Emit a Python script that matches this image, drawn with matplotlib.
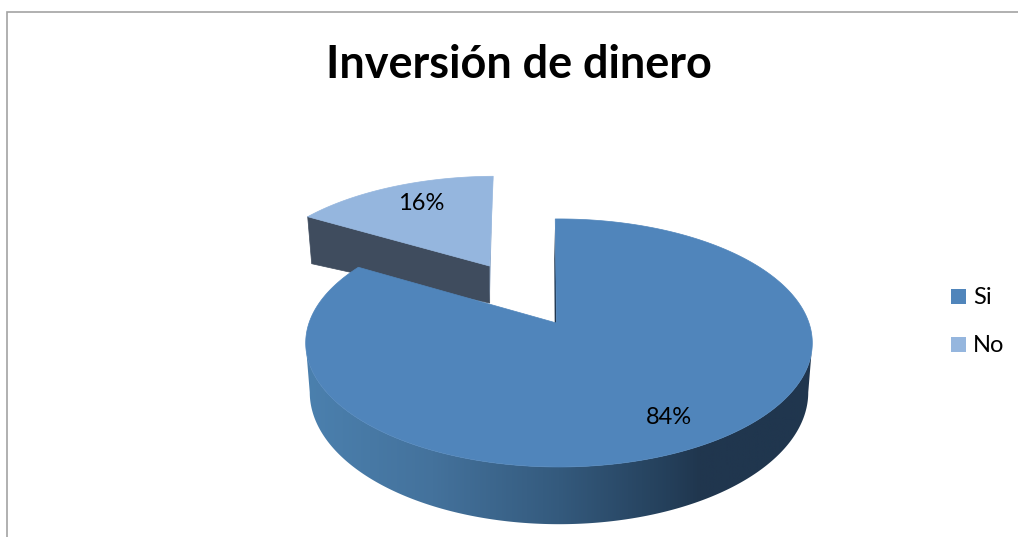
import numpy as np
import matplotlib
matplotlib.use("Agg")
import matplotlib.pyplot as plt
from matplotlib.colors import LinearSegmentedColormap
from matplotlib.patches import Polygon, Rectangle

title = "Inversión de dinero"
categories = ["Si", "No"]
values = [84, 16]
colors = ["#5085BB", "#95B6DE"]
side_dark = "#3F4C5E"

plt.rcParams['font.family'] = ['Lato', 'Open Sans', 'DejaVu Sans']
W, H = 1018, 537
fig = plt.figure(figsize=(W / 100, H / 100), dpi=100)
ax = fig.add_axes([0, 0, 1, 1])
ax.set_xlim(0, W)
ax.set_ylim(H, 0)
ax.axis("off")

# projection of the tilted disc
X0, Y0, A, K, P, DEPTH, SHRINK = 556.5, 323.0, 250.0, 120.8, 0.161, 48.0, 0.984
XC = 559.0


def top(u, v):
    den = 1 + P * v
    return 2.5 + X0 + A * u / den, Y0 - K * v / den


def bottom(u, v):
    x, y = top(u, v)
    return XC + (x - XC) * SHRINK, y + DEPTH / (1 + P * v)


def arc(a0, a1, n=200):
    t = np.radians(np.linspace(a0, a1, n))
    return np.sin(t), np.cos(t)


share = np.array(values, float) / sum(values)
end_main = 360 * share[0]

# exploded slice (drawn first, it lies behind)
ex, ey = -0.30, 0.51
u, v = arc(end_main - 1.4, 359.3)
xa, ya = top(ex, ey)
xs, ys = top(u + ex, v + ey)
xs = xs - 3
bax, bay = xa, ya + 37
blx, bly = xs[0] + 4, ys[0] + 47
ax.add_patch(Polygon([(xs[0], ys[0]), (xa, ya), (bax, bay), (blx, bly)], fc=side_dark, ec=side_dark, lw=0.5))
ax.add_patch(Polygon([(xa, ya), (xs[-1], ys[-1]), (xs[-1] - 0.5, ys[-1] + 8), (bax, bay)], fc="#7F9CC0", ec="none"))
ax.add_patch(Polygon(np.column_stack([np.r_[xa, xs], np.r_[ya, ys]]), fc=colors[1], ec=colors[1], lw=0.5))

# curved wall of the main slice with its horizontal gradient
cmap = LinearSegmentedColormap.from_list("wall", [(0, "#4B80AE"), (0.25, "#44729C"), (0.5, "#345A7D"),
                                                  (0.72, "#243F5A"), (0.78, "#20364E"), (1, "#20364E")])
u, v = arc(99.3, 260.7, 400)
tx, ty = top(u, v)
bx, by = bottom(u, v)
wall = Polygon(np.column_stack([np.r_[tx, bx[::-1]], np.r_[ty, by[::-1]]]), fc="none", ec="none",
               transform=ax.transData)
ax.add_patch(wall)
img = ax.imshow(np.linspace(0, 1, 512).reshape(1, -1), cmap=cmap, extent=(306, 812, 535, 300), aspect="auto")
img.set_clip_path(wall)
ax.set_xlim(0, W)
ax.set_ylim(H, 0)

# notch wall sliver and top face of the main slice
u, v = arc(-1.0, end_main - 2.5, 400)
xm, ym = top(u, v)
ax.add_patch(Polygon([(xm[0], ym[0]), (X0, Y0), (X0 - 1.8, Y0), (xm[0] - 1, ym[0] + 40)], fc="#20364E", ec="none"))
ax.add_patch(Polygon(np.column_stack([np.r_[X0, xm], np.r_[Y0, ym]]), fc=colors[0], ec=colors[0], lw=0.5))

# chart frame
ax.plot([7.5, 7.5, W], [H, 11.5, 11.5], color="#A3A3A3", lw=1.2, solid_joinstyle="miter")

ax.text(518.5, 65, title, ha="center", va="center", fontsize=32.4, fontweight="bold", color="black")
ax.text(421, 204, f"{values[1]}%", ha="center", va="center", fontsize=17, color="black")
ax.text(669, 417, f"{values[0]}%", ha="center", va="center", fontsize=17, color="black")

for cat, col, y in zip(categories, colors, [296.5, 344.5]):
    ax.add_patch(Rectangle((951, y - 7.5), 15, 15, fc=col, ec="none"))
    ax.text(973, y + 0.5, cat, ha="left", va="center", fontsize=17, color="black")

fig.savefig("out.png", dpi=100)
